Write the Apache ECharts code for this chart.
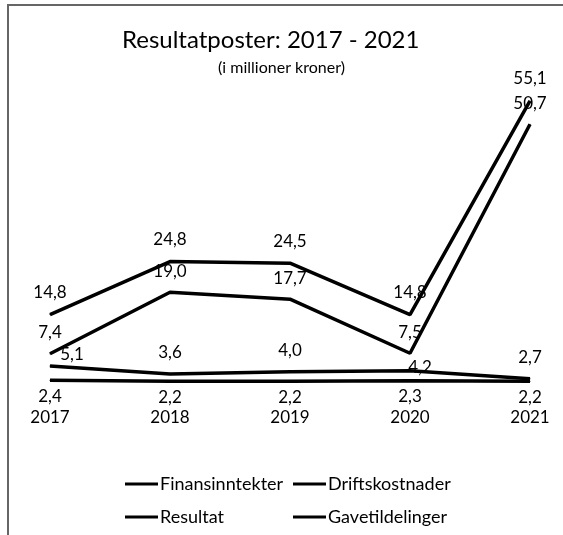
<!DOCTYPE html>
<html>
<head>
<meta charset="utf-8">
<script src="https://cdn.jsdelivr.net/npm/echarts@6/dist/echarts.min.js"></script>
<style>
  html, body { margin: 0; padding: 0; background: #fff; }
  #chart { width: 563px; height: 535px; }
  .frame {
    position: absolute; left: 7px; top: 4px; right: 0; bottom: 0;
    border-left: 2px solid #666; border-top: 2px solid #666;
    pointer-events: none;
  }
</style>
</head>
<body>
<div id="chart"></div>
<div class="frame"></div>
<script>
const years = ['2017', '2018', '2019', '2020', '2021']
const finansinntekter = [14.8, 24.8, 24.5, 14.8, 55.1]
const resultat = [7.4, 19.0, 17.7, 7.5, 50.7]
const gavetildelinger = [5.1, 3.6, 4.0, 4.2, 2.7]
const driftskostnader = [2.4, 2.2, 2.2, 2.3, 2.2]

const font = 'Lato, "Open Sans", sans-serif'
const fmt = p => p.value.toFixed(1).replace('.', ',')

function lineSeries(name, data, label) {
  return {
    name: name,
    type: 'line',
    data: data,
    symbol: 'circle',
    symbolSize: 1,
    showSymbol: true,
    lineStyle: { color: '#000', width: 3.5 },
    itemStyle: { color: '#000' },
    label: Object.assign({
      show: true,
      color: '#000',
      fontFamily: font,
      fontSize: 17,
      formatter: fmt
    }, label)
  }
}

// a couple of Gavetildelinger labels sit beside the line, not above it
const gaveData = gavetildelinger.map((v, i) => {
  if (i === 0) return { value: v, label: { position: 'top', distance: 2, padding: [0, 0, 0, 44] } }
  if (i === 3) return { value: v, label: { position: 'top', distance: -6, offset: [10, 0] } }
  return v
})

const chart = echarts.init(document.getElementById('chart'))
chart.setOption({
  animation: false,
  backgroundColor: '#fff',
  title: [
    {
      text: 'Resultatposter: 2017 - 2021',
      left: 117,
      top: 23,
      textStyle: { fontFamily: font, fontSize: 24, fontWeight: 'normal', color: '#000' }
    },
    {
      text: '(i millioner kroner)',
      left: 'center',
      top: 55,
      textStyle: { fontFamily: font, fontSize: 16, fontWeight: 'normal', color: '#000' }
    }
  ],
  grid: { left: 50, right: 33, top: 75, bottom: 142 },
  xAxis: {
    type: 'category',
    data: years,
    boundaryGap: false,
    axisLine: { show: false },
    axisTick: { show: false },
    axisLabel: { color: '#000', fontFamily: font, fontSize: 17, margin: 16 }
  },
  yAxis: {
    type: 'value',
    min: 0,
    max: 60,
    show: false,
    splitLine: { show: false }
  },
  legend: [
    {
      orient: 'vertical',
      left: 120,
      top: 470,
      itemGap: 15,
      itemWidth: 33,
      itemHeight: 3,
      icon: 'rect',
      data: ['Finansinntekter', 'Resultat'],
      textStyle: { fontFamily: font, fontSize: 18, color: '#000', padding: [0, 0, 0, -3] }
    },
    {
      orient: 'vertical',
      left: 288,
      top: 470,
      itemGap: 15,
      itemWidth: 33,
      itemHeight: 3,
      icon: 'rect',
      data: ['Driftskostnader', 'Gavetildelinger'],
      textStyle: { fontFamily: font, fontSize: 18, color: '#000', padding: [0, 0, 0, -3] }
    }
  ],
  series: [
    lineSeries('Finansinntekter', finansinntekter, { position: 'top', distance: 13 }),
    lineSeries('Resultat', resultat, { position: 'top', distance: 12 }),
    lineSeries('Gavetildelinger', gaveData, { position: 'top', distance: 12 }),
    lineSeries('Driftskostnader', driftskostnader, { position: 'bottom', distance: 7 })
  ]
})
</script>
</body>
</html>
